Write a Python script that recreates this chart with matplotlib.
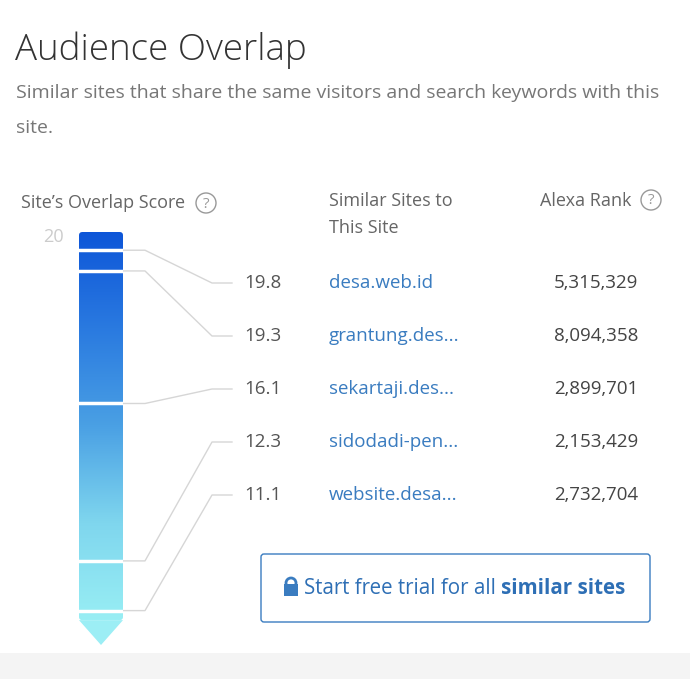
import numpy as np
import matplotlib.pyplot as plt
from matplotlib.patches import Rectangle, Polygon, FancyBboxPatch, Circle
from matplotlib.colors import LinearSegmentedColormap

scores = [19.8, 19.3, 16.1, 12.3, 11.1]
sites = ['desa.web.id', 'grantung.des...', 'sekartaji.des...', 'sidodadi-pen...', 'website.desa...']
ranks = ['5,315,329', '8,094,358', '2,899,701', '2,153,429', '2,732,704']
scale_max = 20

plt.rcParams['font.family'] = 'Open Sans'
fig = plt.figure(figsize=(6.9, 6.79), dpi=100)
ax = fig.add_axes([0, 0, 1, 1])
ax.set_xlim(0, 690)
ax.set_ylim(679, 0)
ax.axis('off')

# bar axes: pixel 232 (top) .. 645 (tip), linear in score
top_v, bot_v = 20.24, 10.27
bar = fig.add_axes([79 / 690, 1 - 645 / 679, 44 / 690, (645 - 232) / 679])
bar.set_xlim(0, 1)
bar.set_ylim(bot_v, top_v)
bar.axis('off')
rect_bot = 10.87
cmap = LinearSegmentedColormap.from_list('g', ['#0d55d8', '#2a7ae0', '#4aa0e4', '#7fd6ee', '#98eef4'])
grad = np.linspace(0, 1, 256).reshape(-1, 1)
im = bar.imshow(grad, extent=[0, 1, rect_bot, top_v], aspect='auto', cmap=cmap, origin='upper')
clip = FancyBboxPatch((0, rect_bot), 1, top_v - rect_bot, boxstyle='round,pad=0,rounding_size=0.08',
                      transform=bar.transData, facecolor='none', edgecolor='none')
bar.add_patch(clip)
im.set_clip_path(clip)
bar.add_patch(Polygon([[0, rect_bot], [1, rect_bot], [0.5, bot_v]], closed=True,
                      facecolor='#9ceef5', edgecolor='none'))
for s in scores:
    bar.axhline(s, color='white', lw=2.5)

ax.text(64, 237, str(scale_max), ha='right', va='center', fontsize=13, color='#cccccc')

# connectors
to_pix = bar.transData + ax.transData.inverted()
label_y = [283, 336, 389, 442, 495]
fs = 13.5
for s, ly, site, rk in zip(scores, label_y, sites, ranks):
    _, by = to_pix.transform((1, s))
    ax.plot([123, 145, 212, 232], [by, by, ly, ly], color='#d6d6d6', lw=1)
    ax.text(281, ly, f'{s:.1f}', ha='right', va='center', fontsize=fs, color='#555555')
    ax.text(329, ly, site, ha='left', va='center', fontsize=fs, color='#3a7cc0')
    ax.text(638, ly, rk, ha='right', va='center', fontsize=fs, color='#444444')

ax.text(15, 50, 'Audience Overlap', fontsize=26.5, color='#333333', va='center', fontweight='light')
ax.text(16, 93, 'Similar sites that share the same visitors and search keywords with this',
        fontsize=14, color='#777777', va='center')
ax.text(16, 128, 'site.', fontsize=14, color='#777777', va='center')

ax.text(21, 203, 'Site\u2019s Overlap Score', fontsize=13, color='#666666', va='center')
ax.text(329, 201, 'Similar Sites to', fontsize=13, color='#666666', va='center')
ax.text(329, 228, 'This Site', fontsize=13, color='#666666', va='center')
ax.text(631, 201, 'Alexa Rank', fontsize=13, color='#666666', va='center', ha='right')
for cx, cy in [(206, 203), (651, 200)]:
    ax.add_patch(Circle((cx, cy), 10, facecolor='none', edgecolor='#999999', lw=1))
    ax.text(cx, cy + 1, '?', ha='center', va='center', fontsize=11, color='#999999')

# button
ax.add_patch(FancyBboxPatch((261, 554), 389, 68, boxstyle='round,pad=0,rounding_size=3',
                            facecolor='white', edgecolor='#3a7cc0', lw=1))
ax.add_patch(Rectangle((284, 584), 14, 12, facecolor='#3a7cc0', edgecolor='none'))
ax.add_patch(Circle((291, 583), 5, facecolor='none', edgecolor='#3a7cc0', lw=2))
t = ax.text(304, 588, 'Start free trial for all ', fontsize=14.8, color='#2e6fb5', va='center')
fig.canvas.draw()
bb = t.get_window_extent()
x_end = ax.transData.inverted().transform((bb.x1, 0))[0]
ax.text(x_end, 588, 'similar sites', fontsize=14.8, color='#2e6fb5', va='center', fontweight='bold')

ax.add_patch(Rectangle((0, 653), 690, 26, facecolor='#f4f4f4', edgecolor='none'))

fig.savefig('out.png', dpi=100)
